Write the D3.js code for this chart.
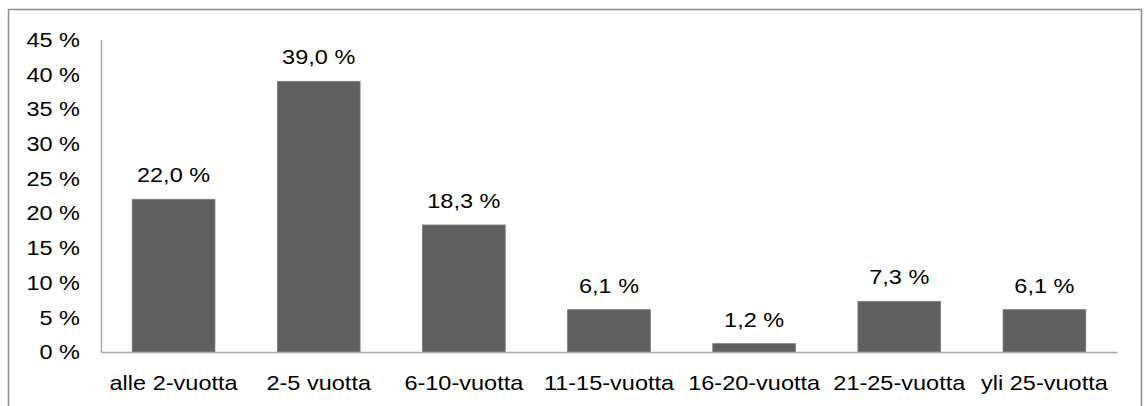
<!DOCTYPE html>
<html>
<head>
<meta charset="utf-8">
<script src="https://cdn.jsdelivr.net/npm/d3@7"></script>
<style>
  html, body { margin: 0; padding: 0; background: #fff; }
  svg { display: block; }
  text { font-family: "Liberation Sans", Arial, sans-serif; fill: #000; }
</style>
</head>
<body>
<svg id="chart" width="1148" height="406"></svg>
<script>
// Kokemusvuodet ryhmittäin (%)
const categories = ["alle 2-vuotta", "2-5 vuotta", "6-10-vuotta", "11-15-vuotta", "16-20-vuotta", "21-25-vuotta", "yli 25-vuotta"];
const values = [22.0, 39.0, 18.3, 6.1, 1.2, 7.3, 6.1];
const yTicks = [0, 5, 10, 15, 20, 25, 30, 35, 40, 45];

const fmt = v => v.toFixed(1).replace(".", ",") + " %";

// text is set slightly wide
const FONT = 21, SX = 1.12;

const svg = d3.select("#chart");

// outer frame
svg.append("rect")
  .attr("x", 8.5).attr("y", 9.5)
  .attr("width", 1133).attr("height", 420)
  .attr("fill", "none").attr("stroke", "#8c8c8c").attr("stroke-width", 1.5);

const plotLeft = 101, plotRight = 1117, plotTop = 39.7, plotBottom = 352;

const x = d3.scaleBand()
  .domain(categories)
  .range([plotLeft, plotRight])
  .paddingInner(0.43)
  .paddingOuter(0.215);

const y = d3.scaleLinear().domain([0, 45]).range([plotBottom, plotTop]);

function widen(sel) {
  sel.each(function () {
    const t = d3.select(this);
    const x0 = +t.attr("x") || 0;
    t.attr("x", x0 / SX).attr("transform", `scale(${SX},1)`);
  });
}

// y axis labels (no tick marks)
const yAxis = svg.append("g")
  .attr("transform", `translate(${plotLeft},0)`)
  .call(d3.axisLeft(y).tickValues(yTicks).tickFormat(d => d + " %").tickSize(0).tickPadding(21));
yAxis.select(".domain").attr("stroke", "#a6a6a6").attr("stroke-width", 1.5);
yAxis.selectAll("text").attr("font-size", FONT).attr("font-family", "Liberation Sans, Arial, sans-serif").attr("fill", "#000").call(widen);

// bars
svg.append("g").selectAll("rect")
  .data(values)
  .join("rect")
  .attr("x", (d, i) => x(categories[i]))
  .attr("width", x.bandwidth())
  .attr("y", d => y(d))
  .attr("height", d => plotBottom - y(d))
  .attr("fill", "#606060")
  .attr("stroke", "#7a7a7a")
  .attr("stroke-width", 0.8);

// x axis
const xAxis = svg.append("g")
  .attr("transform", `translate(0,${plotBottom})`)
  .call(d3.axisBottom(x).tickSize(0).tickPadding(23));
xAxis.select(".domain").attr("stroke", "#a6a6a6").attr("stroke-width", 1.5);
xAxis.selectAll("text").attr("font-size", FONT).attr("font-family", "Liberation Sans, Arial, sans-serif").attr("fill", "#000").call(widen);

// value labels
svg.append("g").selectAll("text")
  .data(values)
  .join("text")
  .attr("x", (d, i) => x(categories[i]) + x.bandwidth() / 2)
  .attr("y", d => y(d) - 17)
  .attr("text-anchor", "middle")
  .attr("font-size", FONT)
  .text(d => fmt(d))
  .call(widen);
</script>
</body>
</html>
